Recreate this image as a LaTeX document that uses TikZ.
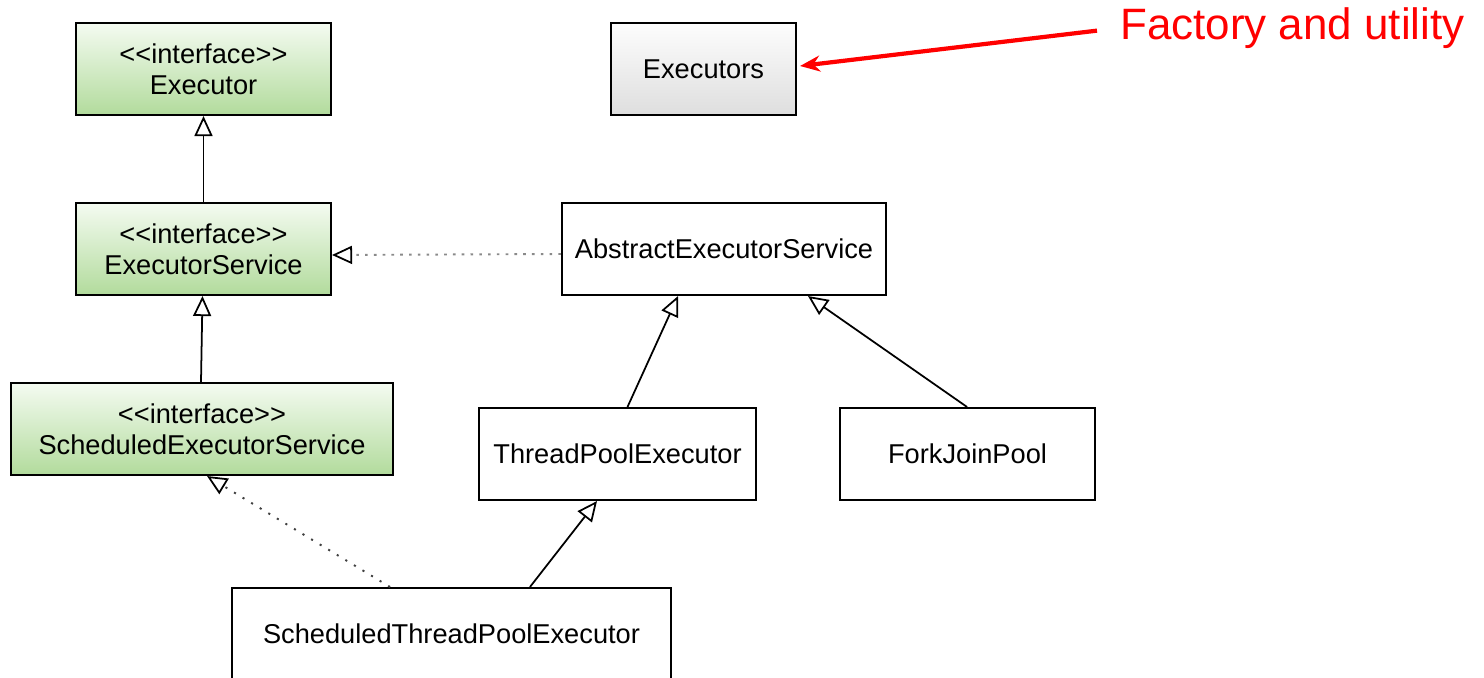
\documentclass[tikz,border=0pt]{standalone}
\usepackage{fontspec}
\setmainfont{Liberation Sans}
\usetikzlibrary{arrows.meta,calc,shadings}
\definecolor{gtop}{HTML}{F4FBF1}
\definecolor{gbot}{HTML}{B2DB9C}
\definecolor{xtop}{HTML}{FDFDFD}
\definecolor{xbot}{HTML}{DEDEDE}
\definecolor{redlab}{HTML}{FF0000}
\definecolor{dotgray}{HTML}{8A8A8A}
\newcommand{\iflabel}{{<}{<}interface{>}{>}}
\begin{document}
\begin{tikzpicture}[x=0.02cm,y=-0.02cm,
  cls/.style={draw=black,line width=1.2pt,rectangle,inner sep=0pt,align=center,
    font=\fontsize{15.5pt}{17.5pt}\selectfont,minimum height=1.84cm},
  iface/.style={cls,top color=gtop,bottom color=gbot},
  util/.style={cls,top color=xtop,bottom color=xbot},
  gen/.style={draw=black,line width=1pt,-{Triangle[open,length=0.4cm,width=0.36cm,line width=1pt]}},
  real/.style={draw=dotgray,dash pattern=on 1.5pt off 3.5pt,line width=1.1pt,
    -{Triangle[open,length=0.4cm,width=0.36cm,line width=1pt,color=black]}},
  realdark/.style={draw=black!75,dash pattern=on 1.2pt off 4.5pt,line width=1.1pt,
    -{Triangle[open,length=0.4cm,width=0.36cm,line width=1pt,color=black]}},
  note/.style={draw=redlab,line width=2.4pt,-{Stealth[length=0.4cm,width=0.32cm]}}]
\useasboundingbox (0,0) rectangle (1484,678);

\node[iface,minimum width=5.1cm]  (exec) at (203.5,69) {\iflabel\\Executor};
\node[util,minimum width=3.7cm]   (execs) at (703.5,69) {Executors};
\node[iface,minimum width=5.1cm]  (es) at (203.5,249) {\iflabel\\ExecutorService};
\node[cls,minimum width=6.48cm]   (aes) at (724,249) {AbstractExecutorService};
\node[iface,minimum width=7.64cm] (ses) at (202,429) {\iflabel\\ScheduledExecutorService};
\node[cls,minimum width=5.54cm]   (tpe) at (617.5,454) {ThreadPoolExecutor};
\node[cls,minimum width=5.1cm]    (fjp) at (967.5,454) {ForkJoinPool};
\node[cls,minimum width=8.78cm] (stpe) at (451.5,634) {ScheduledThreadPoolExecutor};
\node[anchor=base west,text=redlab,font=\fontsize{25pt}{28pt}\selectfont,inner sep=0pt] (lab) at (1120,40) {Factory and utility};

\coordinate (labtail) at ($(lab.west)+(-23,2)$);

\draw[gen] (es.north) -- (exec.south);
\draw[gen] ([xshift=-0.02cm]ses.north) -- ([xshift=-0.02cm]es.south);
\draw[real] ([yshift=-0.1cm]aes.west) -- ([yshift=-0.12cm]es.east);
\draw[gen] ([xshift=0.2cm]tpe.north) -- ([xshift=-0.92cm]aes.south);
\draw[gen] ([xshift=-0.01cm]fjp.north) -- ([xshift=1.68cm]aes.south);
\draw[gen] ([xshift=1.57cm]stpe.north) -- ([xshift=-0.41cm]tpe.south);
\draw[realdark] ([xshift=-1.23cm]stpe.north) -- ([xshift=0.1cm]ses.south);
\draw[note] (labtail) -- ([xshift=0.06cm,yshift=0.06cm]execs.east);
\end{tikzpicture}
\end{document}
